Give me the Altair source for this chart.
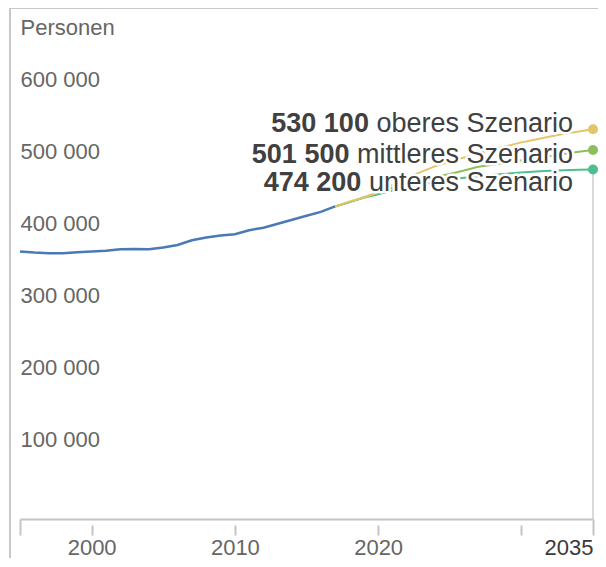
import altair as alt
import pandas as pd

# ---------------- data ----------------
years_hist = list(range(1995, 2018))
pop_hist = [360500, 359000, 358000, 358000, 359500, 360500, 361500, 363500,
            364000, 363500, 366000, 369500, 376000, 380000, 382500, 384500,
            390000, 393500, 399000, 404500, 410000, 415500, 423000]

years_scen = list(range(2017, 2036))
pop_upper = [423000, 430000, 435000, 443000, 453000, 463000, 471000, 479000,
             485000, 491000, 497000, 502000, 507000, 512000, 516000, 520000,
             524000, 527000, 530100]
pop_mid = [423000, 429000, 436000, 442000, 449000, 455000, 460000, 464000,
           468000, 473000, 478000, 481000, 484000, 487000, 490000, 493000,
           496000, 499000, 501500]
pop_lower = [423000, 429000, 435000, 440000, 445000, 449000, 453000, 457000,
             460000, 463000, 465000, 467000, 468500, 470000, 471500, 472700,
             473400, 473900, 474200]

scenario_names = ["oberes Szenario", "mittleres Szenario", "unteres Szenario"]
scenario_end_labels = ["530 100", "501 500", "474 200"]
y_ticks = [100000, 200000, 300000, 400000, 500000, 600000]
x_ticks = [1995, 2000, 2010, 2020, 2030, 2035]

# ---------------- styles ----------------
BLUE = "#4a79b5"
SCEN_COLORS = ["#e3c66a", "#8cbf5c", "#4fbe8c"]
LABEL_DY = [3, 13, 21]
AXIS_GRAY = "#c4c4c4"
TEXT_GRAY = "#666666"
FONT = "Arial"
LABEL_FS = 27

ARIAL_W = {' ': .278, 'a': .556, 'b': .556, 'e': .556, 'i': .222, 'l': .222,
           'm': .833, 'n': .556, 'o': .556, 'r': .333, 's': .5, 't': .278,
           'u': .556, 'z': .5, 'S': .667}


def text_width(s, fs):
    return sum(ARIAL_W.get(c, .556) for c in s) * fs


hist_df = pd.DataFrame({"year": years_hist, "value": pop_hist})
scen_frames = {
    name: pd.DataFrame({"year": years_scen, "value": vals, "scenario": name})
    for name, vals in zip(scenario_names, [pop_upper, pop_mid, pop_lower])
}
end_df = pd.DataFrame({
    "year": [years_scen[-1]] * 3,
    "value": [pop_upper[-1], pop_mid[-1], pop_lower[-1]],
    "scenario": scenario_names,
    "num": scenario_end_labels,
})

x_axis = alt.Axis(
    values=x_ticks,
    labelExpr="(datum.value == 1995 || datum.value == 2030) ? '' : datum.label",
    labelFlush=True,
    labelFontSize=22,
    labelFont=FONT,
    labelColor={"condition": {"test": "datum.value == 2035", "value": "#3a3a3a"},
                "value": TEXT_GRAY},
    labelPadding=2,
    domain=True,
    domainColor=AXIS_GRAY,
    domainWidth=2,
    ticks=True,
    tickSize=16,
    tickColor=AXIS_GRAY,
    tickWidth=2,
    tickDash={"condition": {"test": "datum.value == 1995 || datum.value == 2035",
                            "value": [20, 1]},
              "value": [0, 6, 10, 0]},
    grid=False,
    offset=8,
    title=None,
    format="d",
)

y_axis = alt.Axis(
    values=y_ticks,
    labelExpr="replace(format(datum.value, ','), ',', ' ')",
    labelAlign="left",
    labelBaseline="middle",
    labelPadding=0,
    labelFontSize=22,
    labelFont=FONT,
    labelColor=TEXT_GRAY,
    ticks=False,
    tickSize=0,
    domain=False,
    grid=False,
    title="Personen",
    titleAngle=0,
    titleAlign="left",
    titleBaseline="middle",
    titleX=0,
    titleY=-16,
    titleFontSize=22,
    titleFont=FONT,
    titleFontWeight="normal",
    titleColor=TEXT_GRAY,
)

X = alt.X("year:Q", scale=alt.Scale(domain=[1995, 2035], nice=False, zero=False), axis=x_axis)
Y = alt.Y("value:Q", scale=alt.Scale(domain=[0, 650000], nice=False), axis=y_axis)
color_scale = alt.Scale(domain=scenario_names, range=SCEN_COLORS)

hist_line = alt.Chart(hist_df).mark_line(color=BLUE, strokeWidth=2.5).encode(x=X, y=Y)

# draw lower first, upper last (upper on top, as in the reference)
scen_lines = [
    alt.Chart(scen_frames[name]).mark_line(strokeWidth=2).encode(
        x=X, y=Y, color=alt.Color("scenario:N", scale=color_scale, legend=None)
    )
    for name in reversed(scenario_names)
]

end_rule = alt.Chart(end_df).transform_aggregate(
    value="min(value)", year="max(year)"
).mark_rule(color="#cccccc", strokeWidth=1.5, y2Offset=8).encode(
    x=X, y=Y, y2=alt.Y2(datum=0)
)

dots = alt.Chart(end_df).mark_circle(size=100, opacity=1).encode(
    x=X, y=Y, color=alt.Color("scenario:N", scale=color_scale, legend=None)
)

frame_left = alt.Chart(hist_df).mark_rule(color="#c8c8c8", strokeWidth=2).encode(
    x=alt.value(-10), y=alt.value(-35), y2=alt.value(700)
)
frame_top = alt.Chart(hist_df).mark_rule(color="#c8c8c8", strokeWidth=2).encode(
    x=alt.value(-10), x2=alt.value(800), y=alt.value(-35)
)

label_layers = []
for i, name in enumerate(scenario_names):
    row = end_df[end_df["scenario"] == name]
    desc_dx = -20
    num_dx = desc_dx - text_width(name, LABEL_FS) - text_width(" ", LABEL_FS)
    common = dict(align="right", baseline="alphabetic", dy=LABEL_DY[i],
                  fontSize=LABEL_FS, font=FONT)
    for txt_field, dx, weight in [("scenario", desc_dx, "normal"), ("num", num_dx, "bold")]:
        halo = alt.Chart(row).mark_text(
            dx=dx, fontWeight=weight, color="white", stroke="white",
            strokeWidth=5, strokeJoin="round", **common
        ).encode(x=X, y=Y, text=f"{txt_field}:N")
        label_layers.append(halo)
    for txt_field, dx, weight in [("scenario", desc_dx, "normal"), ("num", num_dx, "bold")]:
        txt = alt.Chart(row).mark_text(
            dx=dx, fontWeight=weight, color="#404040", **common
        ).encode(x=X, y=Y, text=f"{txt_field}:N")
        label_layers.append(txt)

chart = alt.layer(
    hist_line, end_rule, *scen_lines, *label_layers, dots, frame_left, frame_top
).properties(
    width=573, height=468,
    padding={"left": 12, "top": 35, "right": 5, "bottom": 47},
    autosize=alt.AutoSizeParams(type="none"),
    background="white",
).configure_view(stroke=None)

chart.save("out.html", embed_options={"renderer": "svg", "actions": False})
